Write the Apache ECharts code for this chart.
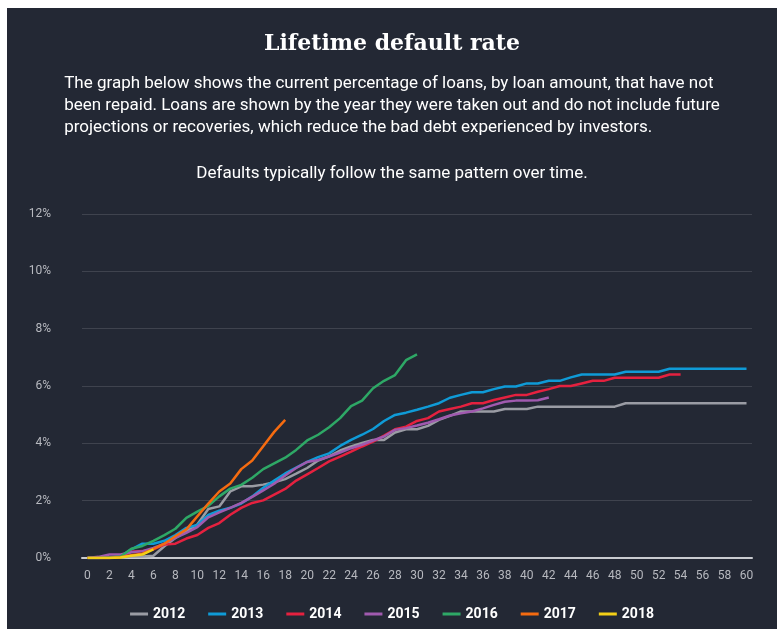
<!DOCTYPE html>
<html>
<head>
<meta charset="utf-8">
<script src="https://cdn.jsdelivr.net/npm/echarts@6/dist/echarts.min.js"></script>
<style>
  html, body { margin: 0; padding: 0; background: #ffffff; }
  #chart { position: absolute; left: 7px; top: 8px; width: 770px; height: 621px; }
</style>
</head>
<body>
<div id="chart"></div>
<script>
// months since loan was taken out
var months = [];
for (var i = 0; i <= 60; i++) months.push(String(i));

var years = ['2012', '2013', '2014', '2015', '2016', '2017', '2018'];
var colors = ['#9a9ca4', '#0f9bd7', '#e5213f', '#a05aaf', '#2ea866', '#f56b10', '#f3cf17'];

// lifetime default rate (%) by month
var d2012 = [0, 0, 0, 0.02, 0.05, 0.05, 0.08, 0.41, 0.7, 0.93, 1.17, 1.71, 1.8, 2.32, 2.5, 2.5, 2.56, 2.64, 2.75, 2.94,
  3.14, 3.4, 3.55, 3.75, 3.89, 4.01, 4.12, 4.12, 4.38, 4.49, 4.49, 4.61, 4.82, 4.96, 5.11, 5.11, 5.11, 5.11, 5.2, 5.2,
  5.2, 5.28, 5.28, 5.28, 5.28, 5.28, 5.28, 5.28, 5.28, 5.4, 5.4, 5.4, 5.4, 5.4, 5.4, 5.4, 5.4, 5.4, 5.4, 5.4, 5.4];
var d2013 = [0, 0, 0.02, 0.05, 0.3, 0.5, 0.5, 0.6, 0.8, 1.05, 1.15, 1.5, 1.65, 1.75, 1.9, 2.15, 2.45, 2.7, 2.95, 3.15,
  3.35, 3.52, 3.65, 3.91, 4.12, 4.3, 4.5, 4.78, 4.99, 5.07, 5.17, 5.28, 5.4, 5.59, 5.69, 5.78, 5.78, 5.89, 5.98, 5.98,
  6.09, 6.09, 6.18, 6.18, 6.3, 6.4, 6.4, 6.4, 6.4, 6.5, 6.5, 6.5, 6.5, 6.6, 6.6, 6.6, 6.6, 6.6, 6.6, 6.6, 6.6];
var d2014 = [0, 0, 0, 0.05, 0.22, 0.24, 0.3, 0.47, 0.5, 0.68, 0.8, 1.05, 1.22, 1.51, 1.75, 1.92, 2.01, 2.21, 2.41, 2.7,
  2.92, 3.14, 3.37, 3.54, 3.71, 3.89, 4.06, 4.27, 4.49, 4.58, 4.78, 4.88, 5.11, 5.2, 5.28, 5.4, 5.4, 5.51, 5.6, 5.69,
  5.69, 5.8, 5.89, 6.0, 6.0, 6.09, 6.18, 6.18, 6.29, 6.29, 6.29, 6.29, 6.29, 6.4, 6.4];
var d2015 = [0, 0.04, 0.12, 0.12, 0.2, 0.24, 0.35, 0.5, 0.7, 0.88, 1.08, 1.42, 1.59, 1.75, 1.92, 2.13, 2.36, 2.59, 2.88, 3.14,
  3.35, 3.42, 3.54, 3.68, 3.83, 3.95, 4.1, 4.24, 4.47, 4.53, 4.62, 4.72, 4.84, 4.97, 5.05, 5.11, 5.22, 5.34, 5.45, 5.49,
  5.49, 5.5, 5.6];
var d2016 = [0, 0, 0.02, 0.05, 0.32, 0.42, 0.6, 0.8, 1.02, 1.4, 1.62, 1.82, 2.15, 2.42, 2.55, 2.8, 3.1, 3.3, 3.5, 3.77,
  4.1, 4.3, 4.56, 4.88, 5.3, 5.49, 5.92, 6.18, 6.38, 6.9, 7.1];
var d2017 = [0, 0, 0, 0.03, 0.1, 0.15, 0.32, 0.5, 0.76, 1.0, 1.45, 1.9, 2.32, 2.6, 3.1, 3.4, 3.9, 4.4, 4.82];
var d2018 = [0, 0, 0, 0.02, 0.08, 0.12, 0.3];
var seriesData = [d2012, d2013, d2014, d2015, d2016, d2017, d2018];

var yTicks = [0, 2, 4, 6, 8, 10, 12];

var intro = 'The graph below shows the current percentage of loans, by loan amount, that have not\n' +
  'been repaid. Loans are shown by the year they were taken out and do not include future\n' +
  'projections or recoveries, which reduce the bad debt experienced by investors.';
var note = 'Defaults typically follow the same pattern over time.';

var chart = echarts.init(document.getElementById('chart'));

var series = [];
for (var s = 0; s < years.length; s++) {
  series.push({
    name: years[s],
    type: 'line',
    data: seriesData[s],
    showSymbol: false,
    symbol: 'none',
    lineStyle: { width: 2.5, color: colors[s] },
    itemStyle: { color: colors[s] }
  });
}

chart.setOption({
  backgroundColor: '#232834',
  animation: false,
  title: {
    text: 'Lifetime default rate',
    left: 'center',
    top: 20,
    textStyle: { color: '#ffffff', fontFamily: 'DejaVu Serif', fontWeight: 'bold', fontSize: 22 }
  },
  graphic: [{
    type: 'text',
    left: 'center',
    top: 65,
    style: {
      text: intro,
      fill: '#ffffff',
      font: '17px Roboto',
      align: 'center',
      lineHeight: 22
    }
  }, {
    type: 'text',
    left: 'center',
    top: 157,
    style: {
      text: note,
      fill: '#ffffff',
      font: '17px Roboto',
      align: 'center'
    }
  }],
  legend: {
    data: years,
    bottom: 3,
    left: 'center',
    icon: 'rect',
    itemWidth: 18,
    itemHeight: 3,
    itemGap: 23,
    textStyle: { color: '#ffffff', fontFamily: 'Roboto', fontWeight: 'bold', fontSize: 14 }
  },
  grid: { left: 75, right: 25, top: 206, bottom: 71 },
  xAxis: {
    type: 'category',
    data: months,
    boundaryGap: true,
    axisLine: { lineStyle: { color: '#c9cbd0', width: 2 } },
    axisTick: { show: false },
    axisLabel: { color: '#b7b9bf', fontFamily: 'Roboto', fontSize: 12, interval: 1, margin: 12 },
    splitLine: { show: false }
  },
  yAxis: {
    type: 'value',
    min: yTicks[0],
    max: yTicks[yTicks.length - 1],
    interval: 2,
    axisLine: { show: false },
    axisTick: { show: false },
    axisLabel: { color: '#b7b9bf', fontFamily: 'Roboto', fontSize: 12, formatter: '{value}%', margin: 31 },
    splitLine: { lineStyle: { color: '#3f434e', width: 1 } }
  },
  series: series
});
</script>
</body>
</html>
